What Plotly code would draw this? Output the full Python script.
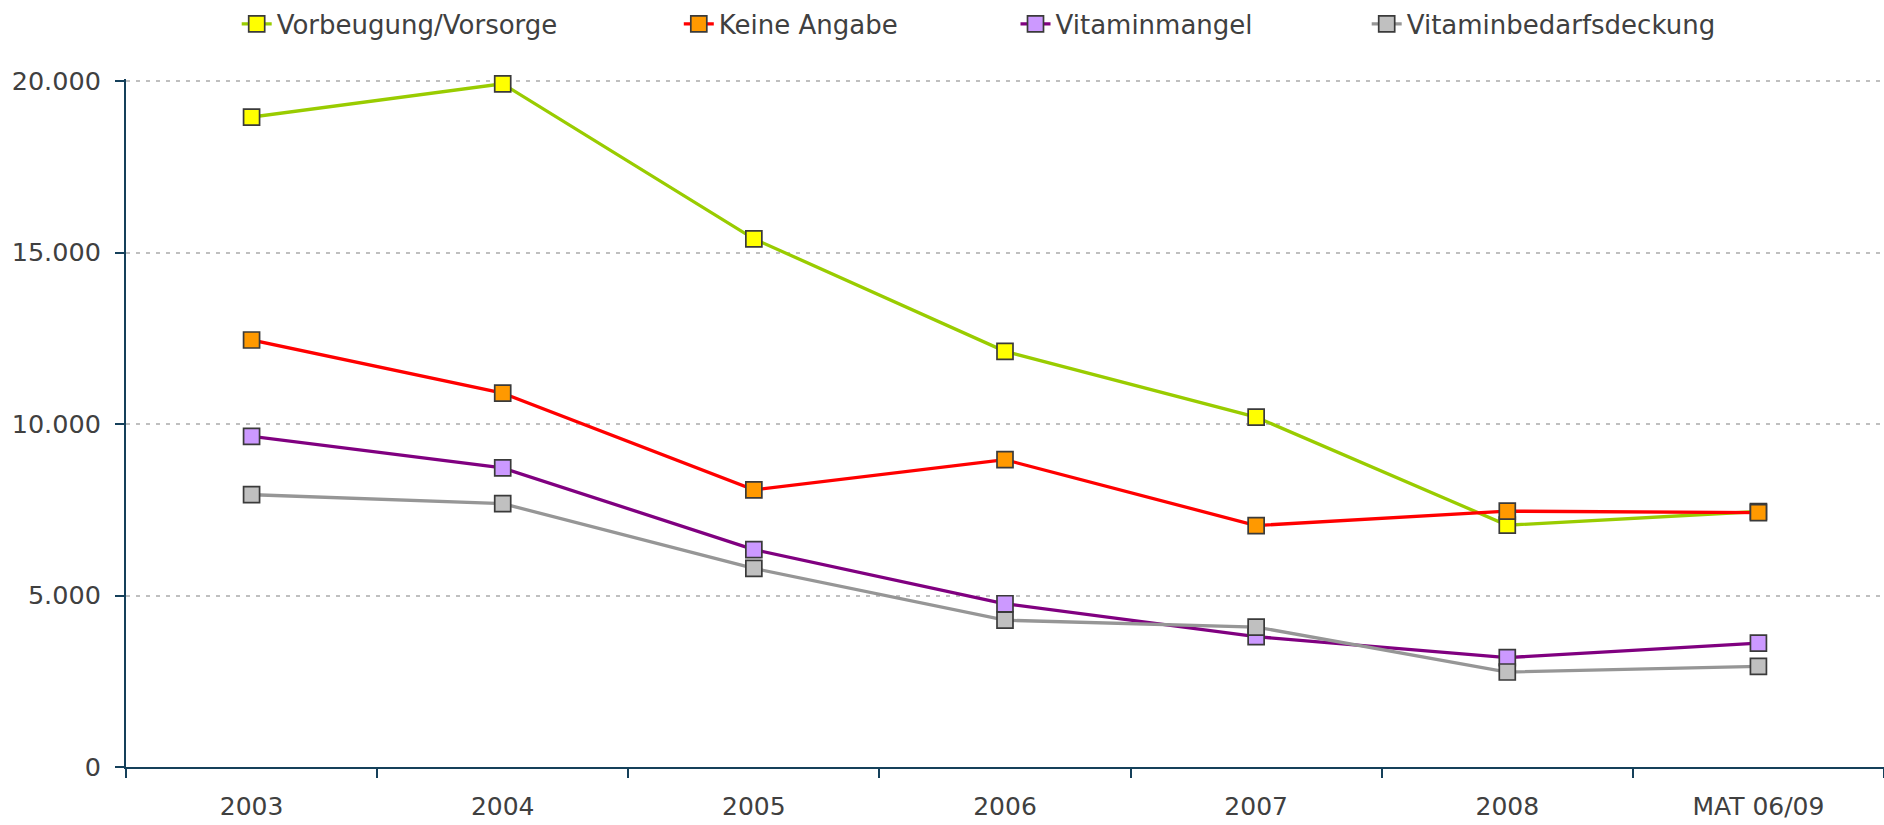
import plotly.graph_objects as go

categories = ["2003", "2004", "2005", "2006", "2007", "2008", "MAT 06/09"]
vorbeugung = [18950, 19920, 15400, 12120, 10200, 7050, 7450]
keine_angabe = [12450, 10900, 8080, 8960, 7040, 7460, 7415]
vitaminmangel = [9640, 8720, 6340, 4760, 3800, 3190, 3610]
bedarfsdeckung = [7940, 7680, 5790, 4280, 4080, 2770, 2935]

series = [
    ("Vorbeugung/Vorsorge", vorbeugung, "#99CC00", "#FFFF00", "legend", 276.7),
    ("Keine Angabe", keine_angabe, "#FF0000", "#FF9900", "legend2", 718.8),
    ("Vitaminmangel", vitaminmangel, "#800080", "#CC99FF", "legend3", 1055.5),
    ("Vitaminbedarfsdeckung", bedarfsdeckung, "#969696", "#C0C0C0", "legend4", 1406.7),
]

W, H = 1884, 825
FONT = "DejaVu Sans"
AXIS = "#15405A"
TXT = "#404040"

fig = go.Figure()
layout_legends = {}
for name, vals, lc, mc, lg, tx in series:
    fig.add_trace(go.Scatter(
        x=categories, y=vals, name=name, mode="lines+markers",
        line=dict(color=lc, width=3.3),
        marker=dict(symbol="square", size=16, color=mc,
                    line=dict(color="#3A3A3A", width=1.7)),
        cliponaxis=False, legend=lg,
    ))
    layout_legends[lg] = dict(
        xref="container", yref="container",
        x=(tx - 40) / W, y=1 - 24 / H, xanchor="left", yanchor="middle",
        orientation="h", bgcolor="rgba(0,0,0,0)",
        font=dict(family=FONT, size=26, color=TXT),
    )

fig.update_layout(
    width=W, height=H,
    margin=dict(l=126, r=0, t=79, b=58, pad=0, autoexpand=False),
    paper_bgcolor="white", plot_bgcolor="white",
    separators=",.",
    showlegend=True,
    font=dict(family=FONT, size=25, color=TXT),
    xaxis=dict(
        type="category", range=[-0.5, 6.5], automargin=False,
        showline=True, linecolor=AXIS, linewidth=2,
        ticks="outside", tickson="boundaries", ticklen=9, tickwidth=2, tickcolor=AXIS,
        showgrid=False, zeroline=False,
        tickfont=dict(family=FONT, size=25, color=TXT),
        ticklabelstandoff=16,
    ),
    yaxis=dict(
        range=[0, 20060], tickvals=[0, 5000, 10000, 15000, 20000],
        tickformat=",d", automargin=False,
        showline=True, linecolor=AXIS, linewidth=2,
        ticks="outside", ticklen=9, tickwidth=2, tickcolor=AXIS,
        showgrid=True, gridcolor="#BFBFBF", gridwidth=1.5, griddash="4px,6px",
        zeroline=False,
        tickfont=dict(family=FONT, size=25.5, color=TXT),
        ticklabelstandoff=9,
    ),
    **layout_legends,
)

fig.write_html(
    "out.html",
    config={"displayModeBar": False},
    post_script="document.body.style.margin='0px';document.body.style.overflow='hidden';",
)
